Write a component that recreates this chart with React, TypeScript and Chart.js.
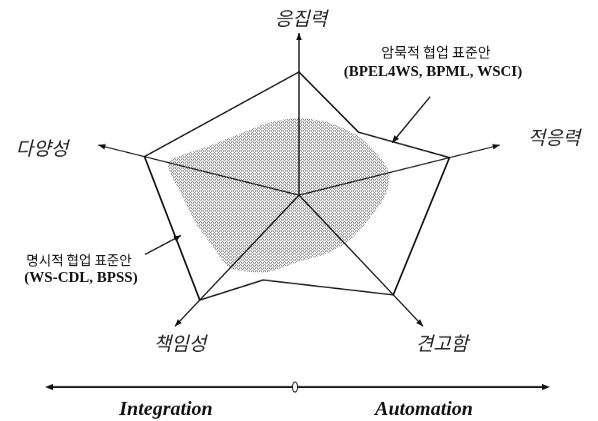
import React, { useEffect, useRef } from 'react';
import { Chart, registerables } from 'chart.js';

Chart.register(...registerables);

// ---- data ----
const axisNames = ['응집력', '적응력', '견고함', '책임성', '다양성'];
const subSteps = 4; // angular subdivisions between two named axes
const categories: string[] = axisNames.flatMap((n) => [n, '', '', '']);
// 명시적 협업 표준안 (outer polygon)
const explicitStandard: (number | null)[] = [
  7.6, null, 4.8, null, 7.5, null, null, null, 7.6, null,
  null, 5.5, 8.0, null, null, null, 7.7, null, null, null,
];
// 암묵적 협업 표준안 (shaded region)
const implicitStandard: number[] = [
  4.75, 4.7, 4.6, 4.5, 4.5, 4.1, 3.7, 3.6, 3.7, 3.85,
  4.1, 5.0, 5.55, 5.15, 5.2, 5.55, 6.5, 5.2, 4.7, 4.7,
];
const scaleMax = 10;
const explicitNote = ['명시적 협업 표준안', '(WS-CDL, BPSS)'];
const implicitNote = ['암묵적 협업 표준안', '(BPEL4WS, BPML, WSCI)'];
const spectrumLabels = ['Integration', 'Automation'];

// ---- layout ----
const W = 598;
const H_INT = 548;
const H_DISP = 421;
const SY = H_DISP / H_INT;
const axisLabelPos: [number, number][] = [
  [301, 18],
  [554, 137],
  [442, 343],
  [180, 343],
  [42, 148],
];

function head(ctx: CanvasRenderingContext2D, fx: number, fy: number, tx: number, ty: number, len: number, half: number) {
  const a = Math.atan2(ty - fy, tx - fx);
  const c = Math.cos(a);
  const s = Math.sin(a);
  ctx.beginPath();
  ctx.moveTo(tx, ty);
  ctx.lineTo(tx - len * c + half * s, ty - len * s - half * c);
  ctx.lineTo(tx - len * c - half * s, ty - len * s + half * c);
  ctx.closePath();
  ctx.fill();
}

function leader(ctx: CanvasRenderingContext2D, fx: number, fy: number, tx: number, ty: number) {
  ctx.lineWidth = 1.3;
  ctx.beginPath();
  ctx.moveTo(fx, fy);
  ctx.lineTo(tx, ty);
  ctx.stroke();
  head(ctx, fx, fy, tx, ty, 7, 3);
}

const decorPlugin = {
  id: 'decor',
  afterDraw(chart: any) {
    const ctx = chart.ctx as CanvasRenderingContext2D;
    const r = chart.scales.r;
    const D = (p: { x: number; y: number }) => ({ x: p.x, y: p.y * SY });
    ctx.save();
    ctx.scale(1, 1 / SY);
    ctx.fillStyle = '#111';
    ctx.strokeStyle = '#111';

    // arrowheads on the five axes
    const center = D({ x: r.xCenter, y: r.yCenter });
    const tipDist = r.getDistanceFromCenterForValue(scaleMax);
    axisNames.forEach((_, k) => {
      const tip = D(r.getPointPosition(k * subSteps, tipDist));
      head(ctx, center.x, center.y, tip.x, tip.y, 7, 2.8);
    });

    // axis names
    ctx.textAlign = 'center';
    ctx.textBaseline = 'middle';
    ctx.fillStyle = '#222';
    ctx.font = 'italic 19px "Noto Sans CJK KR"';
    axisNames.forEach((name, k) => {
      const p = axisLabelPos[k];
      ctx.fillText(name, p[0], p[1]);
    });

    // callout arrows
    ctx.fillStyle = '#111';
    const outer = chart.getDatasetMeta(0).data;
    const lerp = (a: any, b: any, t: number) => ({ x: a.x + (b.x - a.x) * t, y: a.y + (b.y - a.y) * t });
    const tipA = D(lerp(outer[2], outer[4], 0.37));
    leader(ctx, tipA.x + 38, tipA.y - 45, tipA.x, tipA.y + 1);
    const tb = D(lerp(outer[16], outer[12], 0.55));
    const tipB = { x: tb.x + 6, y: tb.y };
    leader(ctx, tipB.x - 36, tipB.y + 19, tipB.x, tipB.y);

    // callout texts
    ctx.font = '14px "Noto Sans CJK KR"';
    ctx.fillText(implicitNote[0], 436, 52);
    ctx.font = 'bold 15px "Liberation Serif"';
    ctx.fillText(implicitNote[1], 433, 72);
    ctx.font = '13.5px "Noto Sans CJK KR"';
    ctx.fillText(explicitNote[0], 79, 260);
    ctx.font = 'bold 15px "Liberation Serif"';
    ctx.fillText(explicitNote[1], 81, 278);

    // spectrum arrow
    ctx.lineWidth = 2;
    ctx.beginPath();
    ctx.moveTo(50, 387);
    ctx.lineTo(545, 387);
    ctx.stroke();
    head(ctx, 300, 387, 45, 387, 8, 3);
    head(ctx, 300, 387, 550, 387, 8, 3);
    ctx.fillStyle = '#fff';
    ctx.lineWidth = 1;
    ctx.beginPath();
    ctx.ellipse(295, 387, 2.5, 5, 0, 0, Math.PI * 2);
    ctx.fill();
    ctx.stroke();
    ctx.fillStyle = '#111';
    ctx.font = 'italic bold 20px "Liberation Serif"';
    ctx.fillText(spectrumLabels[0], 166, 410);
    ctx.fillText(spectrumLabels[1], 424, 410);
    ctx.restore();
  },
};

function makePattern(): CanvasPattern | string {
  const pc = document.createElement('canvas');
  pc.width = 4;
  pc.height = 4;
  const g = pc.getContext('2d');
  if (!g) return 'rgba(150,150,150,0.5)';
  g.fillStyle = 'rgba(120,120,120,0.95)';
  const px = [[0, 0], [1, 1], [2, 2], [3, 3], [1, 3], [3, 1]];
  px.forEach(([x, y]) => g.fillRect(x, y, 1, 1));
  const pat = g.createPattern(pc, 'repeat');
  return pat || 'rgba(150,150,150,0.5)';
}

export default function App() {
  const ref = useRef<HTMLCanvasElement | null>(null);
  useEffect(() => {
    if (!ref.current) return;
    const pattern = makePattern();
    const chart = new Chart(ref.current, {
      type: 'radar',
      data: {
        labels: categories,
        datasets: [
          {
            label: explicitNote[0],
            data: explicitStandard,
            borderColor: '#111',
            borderWidth: 1.7,
            fill: false,
            spanGaps: true,
            pointRadius: 0,
            tension: 0,
          },
          {
            label: implicitNote[0],
            data: implicitStandard,
            borderColor: 'rgba(0,0,0,0)',
            borderWidth: 0,
            backgroundColor: pattern as any,
            fill: 'origin',
            pointRadius: 0,
            tension: 0.25,
          },
        ],
      } as any,
      options: {
        responsive: false,
        animation: false,
        devicePixelRatio: 1,
        layout: { padding: { left: 88, right: 88, top: 43, bottom: 83 } },
        plugins: { legend: { display: false }, tooltip: { enabled: false } },
        scales: {
          r: {
            min: 0,
            max: scaleMax,
            grid: { display: false, z: 1 } as any,
            ticks: { display: false },
            pointLabels: { display: false },
            angleLines: {
              color: '#111',
              lineWidth: (c: any) => (c.index % subSteps === 0 ? 1.4 : 0),
            },
          },
        },
      } as any,
      plugins: [decorPlugin],
    });
    return () => chart.destroy();
  }, []);
  return (
    <div style={{ position: 'absolute', left: 0, top: 0, width: W, height: H_DISP, background: '#fff' }}>
      <canvas
        ref={ref}
        width={W}
        height={H_INT}
        style={{ position: 'absolute', left: 0, top: 0, width: W + 'px', height: H_DISP + 'px' }}
      />
    </div>
  );
}
